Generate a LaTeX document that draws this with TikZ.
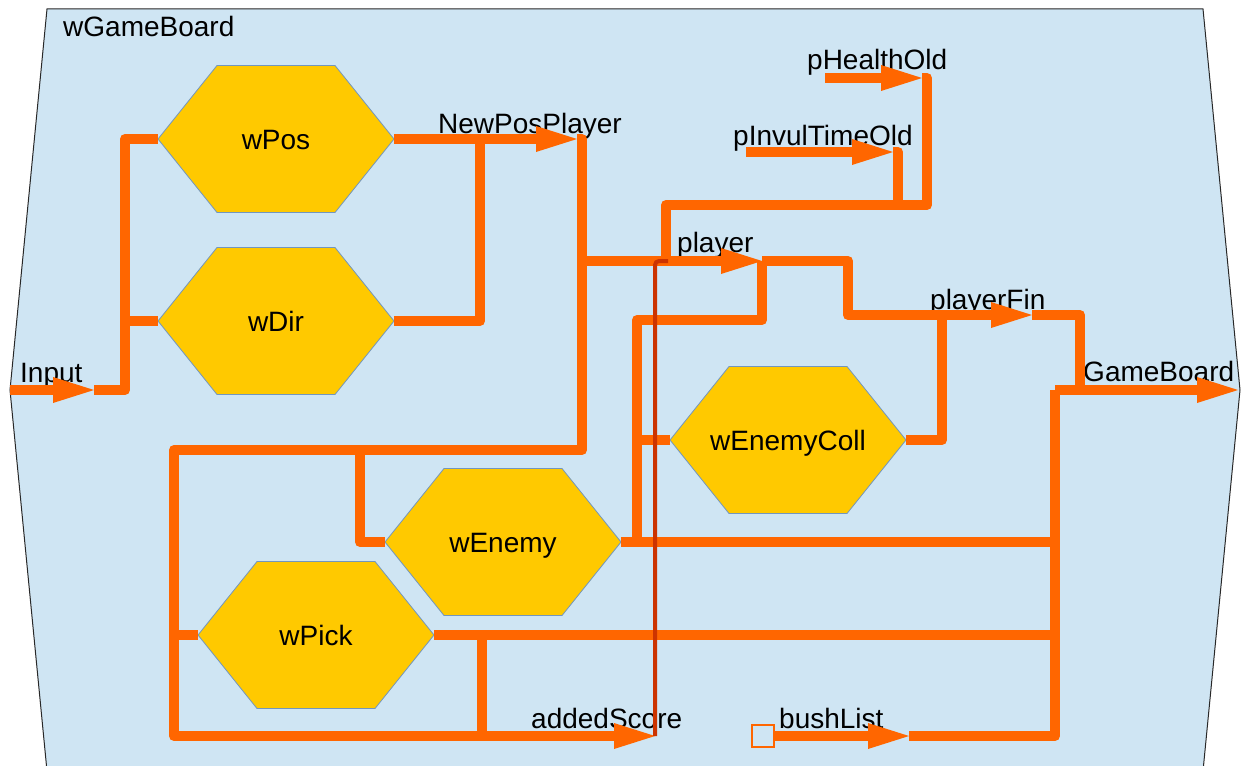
\documentclass[tikz,border=0pt]{standalone}
\usepackage{fontspec}
\setmainfont{Liberation Sans}
\usetikzlibrary{arrows.meta}

\definecolor{boardfill}{RGB}{207,229,243}
\definecolor{boardedge}{RGB}{40,40,40}
\definecolor{wireorange}{RGB}{255,102,0}
\definecolor{hexfill}{RGB}{255,201,0}
\definecolor{hexedge}{RGB}{114,150,190}
\definecolor{tracered}{RGB}{204,51,0}

\tikzset{
  wire/.style={draw=wireorange, line width=10pt, line join=round},
  flow/.style={wire, -{Triangle[length=41pt,width=26pt,line width=0pt]}},
  trace/.style={draw=tracered, line width=4pt, rounded corners=4pt},
  lbl/.style={font=\fontsize{28}{32}\selectfont, inner sep=0pt, anchor=base west},
  hexlabel/.style={font=\fontsize{28}{32}\selectfont, minimum width=236pt,
    minimum height=147pt, inner sep=0pt, text height=20pt, text depth=0pt},
  hexshape/.style={fill=hexfill, draw=hexedge, line width=0.8pt},
  bushbox/.style={draw=wireorange, fill=boardfill, line width=1.2pt,
    minimum size=22pt, inner sep=0pt},
}

% hexagonal block: name, centre, label
\newcommand\hexblock[3]{%
  \path[hexshape] (#2) ++(-118,0) -- ++(59,-73.5) -- ++(118,0) -- ++(59,73.5)
    -- ++(-59,73.5) -- ++(-118,0) -- cycle;
  \node[hexlabel] (#1) at (#2) {#3};}

\begin{document}
\begin{tikzpicture}[x=1pt,y=-1pt]
\useasboundingbox (0,0) rectangle (1241,765);
\clip (0,0) rectangle (1241,765);

% board outline
\path[fill=boardfill, draw=boardedge, line width=1pt]
  (47,9) -- (1203,9) -- (1240,390) -- (1203,771) -- (47,771) -- (10,390) -- cycle;

% blocks
\hexblock{wPos}{276,139}{wPos}
\hexblock{wDir}{276,321}{wDir}
\hexblock{wEnemyColl}{788,440}{wEnemyColl}
\hexblock{wEnemy}{503,542}{wEnemy}
\hexblock{wPick}{316,635}{wPick}

% signal names
\node[lbl] (tBoard)  at (63,37)   {wGameBoard};
\node[lbl] (tInput)  at (20,382)  {Input};
\node[lbl] (tNewPos) at (438,133) {NewPosPlayer};
\node[lbl] (tHealth) at (807,70)  {pHealthOld};
\node[lbl] (tInvul)  at (733,145) {pInvulTimeOld};
\node[lbl] (tPlayer) at (677,252) {player};
\node[lbl] (tFin)    at (930,309) {playerFin};
\node[lbl] (tGame)   at (1083,381) {GameBoard};
\node[lbl] (tScore)  at (531,728) {addedScore};
\node[lbl] (tBush)   at (779,728) {bushList};

% wire corners and arrow tips
\coordinate (inL)      at (10,390);
\coordinate (inTip)    at (94,390);
\coordinate (inBus)    at (125,390);
\coordinate (npTip)    at (577,139);
\coordinate (npJoin)   at (480,139);
\coordinate (npBus)    at (582,139);
\coordinate (busTR)    at (582,450);
\coordinate (busTL)    at (174,450);
\coordinate (busBL)    at (174,736);
\coordinate (scoreTip) at (655,736);
\coordinate (pickDrop) at (482,634);
\coordinate (enDrop)   at (360,450);
\coordinate (plJoin)   at (582,261);
\coordinate (plTip)    at (762,261);
\coordinate (oldDrop)  at (666,205);
\coordinate (hStart)   at (825,78);
\coordinate (hTip)     at (922,78);
\coordinate (hBus)     at (927,78);
\coordinate (iStart)   at (746,152);
\coordinate (iTip)     at (893,152);
\coordinate (iBus)     at (898,152);
\coordinate (plStep)   at (848,261);
\coordinate (pfTip)    at (1032,315);
\coordinate (collUp)   at (942,315);
\coordinate (collBus)  at (637,320);
\coordinate (pfBus)    at (1080,315);
\coordinate (gbStart)  at (1080,390);
\coordinate (gbTip)    at (1238,390);
\coordinate (outBus)   at (1055,390);
\coordinate (bushTip)  at (909,736);
\coordinate (traceTop) at (655,261);
\coordinate (traceEnd) at (668,261);

% input side
\draw[flow] (inL) -- (inTip);
\draw[wire] (inTip) -- (inBus) |- (wPos.west);
\draw[wire] (wDir.west) -| (inBus);
\draw[flow] (wPos.east) -- (npTip);
\draw[wire] (wDir.east) -| (npJoin);

% main loop to addedScore
\draw[flow] (npTip) -- (npBus) -- (busTR) -- (busTL) -- (busBL) -- (scoreTip);
\draw[wire] (wPick.west) -- (busTL |- wPick.west);
\draw[wire] (wEnemy.west) -| (enDrop);
\draw[wire] (pickDrop) -- (pickDrop |- busBL);

% old player state
\draw[flow] (hStart) -- (hTip);
\draw[flow] (iStart) -- (iTip);
\draw[wire] (hTip) -- (hBus) |- (oldDrop) -- (oldDrop |- plJoin);
\draw[wire] (iTip) -- (iBus) -- (iBus |- oldDrop);

% player and collision
\draw[flow] (plJoin) -- (plTip);
\draw[flow] (plTip) -- (plStep) |- (pfTip);
\draw[wire] (plTip) |- (collBus) -- (collBus |- wEnemy.east);
\draw[wire] (collBus |- wEnemyColl.west) -- (wEnemyColl.west);
\draw[wire] (wEnemyColl.east) -| (collUp);

% output side
\draw[wire] (pfTip) -- (pfBus) -- (gbStart);
\draw[flow] (outBus) -- (gbTip);
\draw[wire] (wEnemy.east) -- (outBus |- wEnemy.east);
\draw[wire] (wPick.east) -- (outBus |- wPick.east);
\draw[wire] (outBus) -- (outBus |- busBL) -- (bushTip);
\node[bushbox] (bushBox) at (763,736) {};
\draw[flow] (bushBox.east) -- (bushTip);

% score feedback trace
\draw[trace] (scoreTip) -- (traceTop) -- (traceEnd);
\end{tikzpicture}
\end{document}
